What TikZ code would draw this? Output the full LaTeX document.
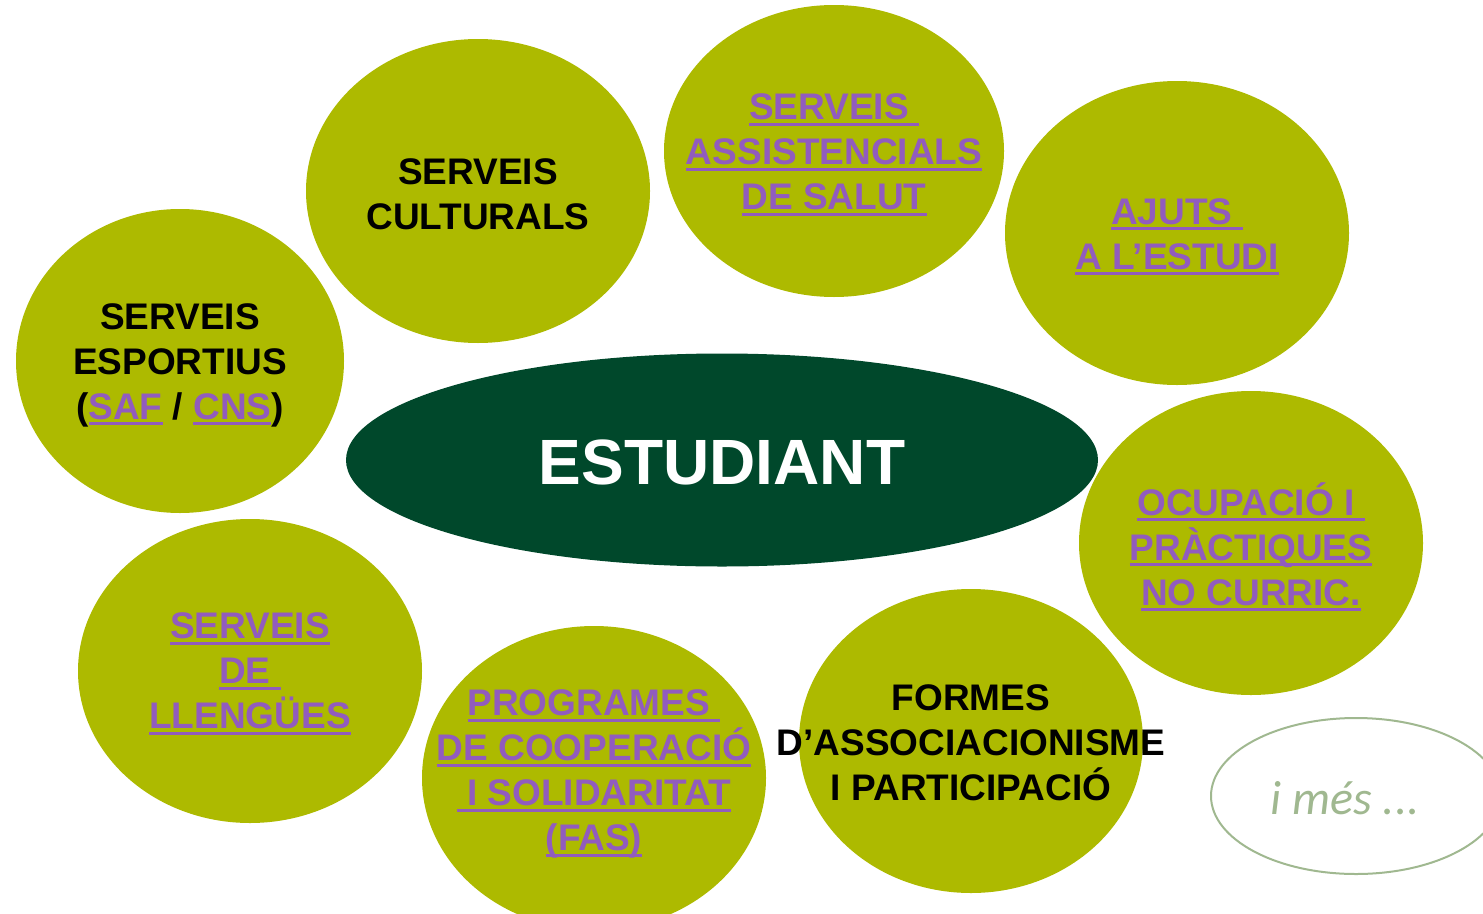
\documentclass[tikz,border=0pt]{standalone}
\usepackage{fontspec}
\setmainfont{Liberation Sans}
\newfontfamily\calib{Carlito}
\usetikzlibrary{shapes.geometric}
\definecolor{olivebub}{RGB}{173,186,0}
\definecolor{linkp}{RGB}{145,92,190}
\definecolor{darkgr}{RGB}{0,72,43}
\definecolor{paleg}{RGB}{160,184,144}
\newsavebox\ulbox
\newcommand\lnk[1]{{\color{linkp}\sbox\ulbox{#1}\rlap{\rule[-6pt]{\wd\ulbox}{3pt}}\usebox\ulbox}}
\tikzset{
  bub/.style={ellipse, fill=olivebub, draw=none, inner sep=0pt},
  btxt/.style={align=center, font=\bfseries\fontsize{37}{45}\selectfont, inner sep=0pt},
}
\begin{document}
\begin{tikzpicture}[x=1pt,y=-1pt]
\useasboundingbox (0,0) rectangle (1483,913);
\clip (0,0) rectangle (1483,913);
\node[bub, minimum width=344pt, minimum height=304pt] (cult) at (478,191) {};
\node[bub, minimum width=340pt, minimum height=292pt] (salut) at (834,151) {};
\node[bub, minimum width=344pt, minimum height=304pt] (ajuts) at (1177,233) {};
\node[bub, minimum width=328pt, minimum height=304pt] (esport) at (180,361) {};
\node[ellipse, fill=darkgr, inner sep=0pt, minimum width=752pt, minimum height=213pt] (est) at (722,460) {};
\node[bub, minimum width=344pt, minimum height=304pt] (ocup) at (1251,543) {};
\node[bub, minimum width=344pt, minimum height=304pt] (lleng) at (250,671) {};
\node[bub, minimum width=344pt, minimum height=304pt] (prog) at (594,778) {};
\node[bub, minimum width=344pt, minimum height=304pt] (formes) at (971,741) {};
\node[ellipse, draw=paleg, line width=2pt, inner sep=0pt, minimum width=290pt, minimum height=156pt] (mes) at (1356,796) {};

\node[btxt] (cultT) at (478,194) {SERVEIS\\CULTURALS};
\node[btxt] (salutT) at (834,155) {\lnk{SERVEIS\ }\\\lnk{ASSISTENCIALS}\\\lnk{DE SALUT}};
\node[btxt] (ajutsT) at (1177,237) {\lnk{AJUTS\ }\\\lnk{A L’ESTUDI}};
\node[btxt] (esportT) at (180,365) {SERVEIS\\ESPORTIUS\\(\lnk{SAF} / \lnk{CNS})};
\node[font=\bfseries\fontsize{64}{70}\selectfont, text=white, inner sep=0pt] (estT) at (722,462) {ESTUDIANT};
\node[btxt] (ocupT) at (1251,547) {\lnk{OCUPACIÓ I\ }\\\lnk{PRÀCTIQUES}\\\lnk{NO CURRIC.}};
\node[btxt] (llengT) at (250,674) {\lnk{SERVEIS}\\\lnk{DE\ }\\\lnk{LLENGÜES}};
\node[btxt] (progT) at (594,774) {\lnk{PROGRAMES\ }\\\lnk{DE COOPERACIÓ}\\\lnk{\ I SOLIDARITAT}\\\lnk{(FAS)}};
\node[btxt] (formesT) at (971,743) {FORMES\\D’ASSOCIACIONISME\\I PARTICIPACIÓ};
\node[font=\calib\itshape\fontsize{48}{54}\selectfont, text=paleg, inner sep=0pt] (mesT) at (1345,798) {i més ...};
\end{tikzpicture}
\end{document}
